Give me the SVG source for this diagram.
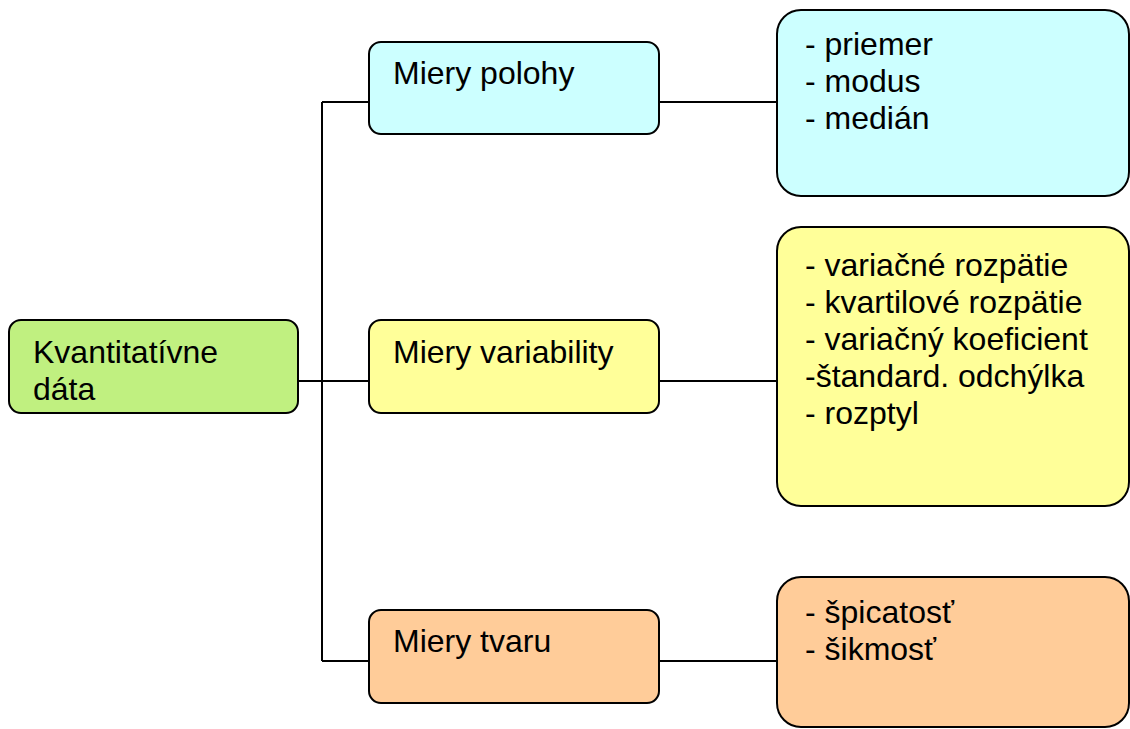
<svg xmlns="http://www.w3.org/2000/svg" width="1130" height="729" viewBox="0 0 1130 729">
<style>
.box{stroke:#000;stroke-width:2}
.t{font-family:"Liberation Sans",Arial,sans-serif;font-size:32px;fill:#000}
.c{stroke:#000;stroke-width:2;fill:none}
.g{fill:#C0F080}.b{fill:#CCFFFF}.y{fill:#FFFF99}.o{fill:#FFCC99}
</style>
<rect width="1130" height="729" fill="#fff"/>
<g id="connectors">
<path class="c" d="M298 381H369M322 102V661M322 102H369M322 661H369M659 102H777M659 381H777M659 661H777"/>
</g>
<g id="kvantitativne">
<rect class="box g" x="9" y="320" width="289" height="93" rx="12"/>
<text class="t" x="33" y="363">Kvantitatívne</text>
<text class="t" x="33" y="400">dáta</text>
</g>
<g id="polohy">
<rect class="box b" x="369" y="42" width="290" height="92" rx="12"/>
<text class="t" x="393" y="84">Miery polohy</text>
</g>
<g id="variability">
<rect class="box y" x="369" y="320" width="290" height="93" rx="12"/>
<text class="t" x="393" y="363">Miery variability</text>
</g>
<g id="tvaru">
<rect class="box o" x="369" y="610" width="290" height="93" rx="12"/>
<text class="t" x="393" y="652">Miery tvaru</text>
</g>
<g id="polohy-list">
<rect class="box b" x="777" y="10" width="352" height="186" rx="24"/>
<text class="t" x="805" y="55">- priemer</text>
<text class="t" x="805" y="92">- modus</text>
<text class="t" x="805" y="129">- medián</text>
</g>
<g id="variability-list">
<rect class="box y" x="777" y="227" width="352" height="279" rx="24"/>
<text class="t" x="805" y="276">- variačné rozpätie</text>
<text class="t" x="805" y="313">- kvartilové rozpätie</text>
<text class="t" x="805" y="350">- variačný koeficient</text>
<text class="t" x="805" y="387">-štandard. odchýlka</text>
<text class="t" x="805" y="424">- rozptyl</text>
</g>
<g id="tvaru-list">
<rect class="box o" x="777" y="577" width="352" height="150" rx="24"/>
<text class="t" x="805" y="623">- špicatosť</text>
<text class="t" x="805" y="660">- šikmosť</text>
</g>
</svg>
